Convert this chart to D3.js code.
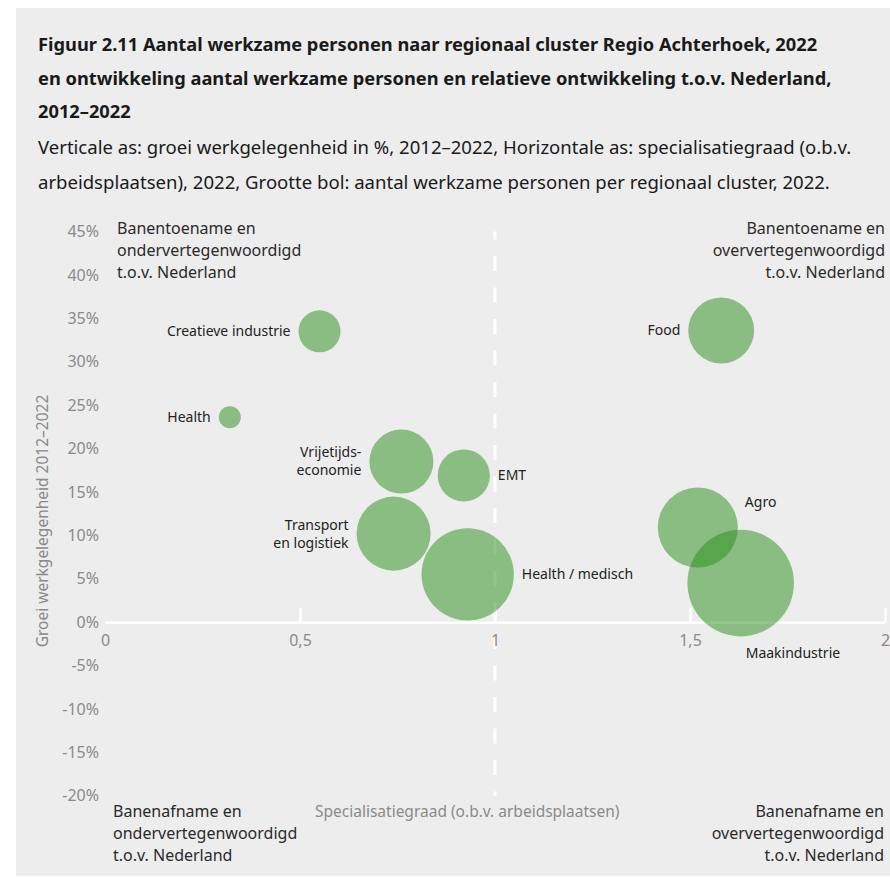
<!DOCTYPE html>
<html>
<head>
<meta charset="utf-8">
<script src="https://cdn.jsdelivr.net/npm/d3@7"></script>
<style>
  body { margin: 0; background: #fff; }
  svg { display: block; font-family: "Noto Sans", sans-serif; }
</style>
</head>
<body>
<svg id="chart" width="890" height="877"></svg>
<script>
// waarden
var clusters = ["Creatieve industrie", "Health", "Food", "Vrijetijdseconomie", "EMT",
  "Transport en logistiek", "Health / medisch", "Agro", "Maakindustrie"];
var labelLines = [["Creatieve industrie"], ["Health"], ["Food"], ["Vrijetijds-", "economie"], ["EMT"],
  ["Transport", "en logistiek"], ["Health / medisch"], ["Agro"], ["Maakindustrie"]];
var specialisatie = [0.55, 0.32, 1.58, 0.76, 0.92, 0.74, 0.93, 1.52, 1.63];
var groei = [33.5, 23.6, 33.6, 18.5, 16.9, 10.2, 5.5, 10.9, 4.5];
var werkzamen = [4350, 1200, 10700, 10100, 6700, 13500, 21000, 15800, 28000];

var xTicks = [0, 0.5, 1, 1.5, 2];
var yTicks = [-20, -15, -10, -5, 0, 5, 10, 15, 20, 25, 30, 35, 40, 45];

var titleLines = [
  "Figuur 2.11 Aantal werkzame personen naar regionaal cluster Regio Achterhoek, 2022",
  "en ontwikkeling aantal werkzame personen en relatieve ontwikkeling t.o.v. Nederland,",
  "2012\u20132022"
];
var subtitleLines = [
  "Verticale as: groei werkgelegenheid in %, 2012\u20132022, Horizontale as: specialisatiegraad (o.b.v.",
  "arbeidsplaatsen), 2022, Grootte bol: aantal werkzame personen per regionaal cluster, 2022."
];

// plaats van het label t.o.v. de bol
var labelSide = ["left", "left", "left", "left", "right", "left", "right", "upright", "below"];

var svg = d3.select('#chart');

svg.append('rect')
  .attr('x', 16).attr('y', 8)
  .attr('width', 874).attr('height', 868)
  .attr('fill', '#ededed');

// tekst passend maken op de breedte uit de figuur
function fitSize(sel, base, target) {
  var w = sel.node().getComputedTextLength();
  return base * target / w;
}

var title = svg.append('g');
var t1 = title.append('text')
  .attr('x', 38).attr('y', 51)
  .attr('font-weight', 700).attr('font-size', 18)
  .text(titleLines[0]);
var titleSize = fitSize(t1, 18, 780);
title.selectAll('text').remove();
titleLines.forEach(function(s, i) {
  title.append('text')
    .attr('x', 38).attr('y', 51 + i * 33.5)
    .attr('font-weight', 700).attr('font-size', titleSize)
    .attr('fill', '#1a1a1a')
    .text(s);
});

var s1 = svg.append('text')
  .attr('x', 38).attr('y', 154)
  .attr('font-size', 17)
  .text(subtitleLines[0]);
var subSize = fitSize(s1, 17, 814);
s1.remove();
subtitleLines.forEach(function(s, i) {
  svg.append('text')
    .attr('x', 38).attr('y', 154 + i * 34.5)
    .attr('font-size', subSize)
    .attr('fill', '#1a1a1a')
    .text(s);
});

var x = d3.scaleLinear().domain([0, 2]).range([105, 885]);
var y = d3.scaleLinear().domain([-20, 45]).range([795.8, 231.5]);
var r = d3.scaleSqrt().domain([0, 28000]).range([0, 53.3]);

// verticale stippellijn bij specialisatiegraad 1
svg.append('line')
  .attr('x1', x(1)).attr('x2', x(1))
  .attr('y1', y(45)).attr('y2', y(-20))
  .attr('stroke', '#fff')
  .attr('stroke-width', 3)
  .attr('stroke-dasharray', '15,16.5')
  .attr('stroke-dashoffset', 7);

// y-as
var yAxis = svg.append('g')
  .attr('transform', 'translate(' + x(0) + ',0)')
  .call(d3.axisLeft(y).tickValues(yTicks).tickSize(0).tickPadding(6)
    .tickFormat(function(d) { return d + '%'; }));
yAxis.select('.domain').remove();
yAxis.selectAll('text')
  .attr('font-family', '"Noto Sans", sans-serif')
  .attr('font-size', 16)
  .attr('fill', '#8a8a8a');

// x-as
var xAxis = svg.append('g')
  .attr('transform', 'translate(0,' + y(0) + ')')
  .call(d3.axisBottom(x).tickValues(xTicks).tickSize(-14).tickSizeOuter(0).tickPadding(12)
    .tickFormat(function(d) { return String(d).replace('.', ','); }));
xAxis.select('.domain')
  .attr('stroke', '#fff')
  .attr('stroke-width', 2.5);
xAxis.selectAll('.tick line')
  .attr('stroke', '#fff')
  .attr('stroke-width', 2.5)
  .attr('display', function(d) { return d === 0 ? 'none' : null; });
xAxis.selectAll('text')
  .attr('font-family', '"Noto Sans", sans-serif')
  .attr('font-size', 16)
  .attr('fill', '#8a8a8a');

// astitels
svg.append('text')
  .attr('x', 315).attr('y', 817)
  .attr('font-size', 15.5)
  .attr('fill', '#8a8a8a')
  .text('Specialisatiegraad (o.b.v. arbeidsplaatsen)');

svg.append('text')
  .attr('transform', 'translate(48,521) rotate(-90)')
  .attr('text-anchor', 'middle')
  .attr('font-size', 15.5)
  .attr('fill', '#8a8a8a')
  .text('Groei werkgelegenheid 2012\u20132022');

// kwadrantteksten
var quadrants = [
  { x: 117, y: 234, anchor: 'start', lines: ['Banentoename en', 'ondervertegenwoordigd', 't.o.v. Nederland'] },
  { x: 885, y: 234, anchor: 'end', lines: ['Banentoename en', 'oververtegenwoordigd', 't.o.v. Nederland'] },
  { x: 113, y: 817, anchor: 'start', lines: ['Banenafname en', 'ondervertegenwoordigd', 't.o.v. Nederland'] },
  { x: 884, y: 817, anchor: 'end', lines: ['Banenafname en', 'oververtegenwoordigd', 't.o.v. Nederland'] }
];
quadrants.forEach(function(q) {
  var t = svg.append('text')
    .attr('x', q.x).attr('y', q.y)
    .attr('text-anchor', q.anchor)
    .attr('font-size', 16)
    .attr('fill', '#2a2a2a');
  q.lines.forEach(function(l, i) {
    t.append('tspan')
      .attr('x', q.x)
      .attr('dy', i === 0 ? 0 : 21.8)
      .text(l);
  });
});

// bollen
var data = clusters.map(function(c, i) {
  return { name: c, lines: labelLines[i], x: specialisatie[i], y: groei[i], n: werkzamen[i], side: labelSide[i] };
});

svg.append('g').selectAll('circle')
  .data(data)
  .join('circle')
  .attr('cx', function(d) { return x(d.x); })
  .attr('cy', function(d) { return y(d.y); })
  .attr('r', function(d) { return r(d.n); })
  .attr('fill', 'rgb(39,141,23)')
  .attr('fill-opacity', 0.5);

var labels = svg.append('g').selectAll('text')
  .data(data)
  .join('text')
  .attr('font-size', 14)
  .attr('fill', '#222')
  .attr('text-anchor', function(d) { return d.side === 'left' ? 'end' : 'start'; })
  .each(function(d) {
    var cx = x(d.x), cy = y(d.y), rad = r(d.n);
    var lx, ly;
    if (d.side === 'left') { lx = cx - rad - 8; ly = cy; }
    else if (d.side === 'right') { lx = cx + rad + 8; ly = cy; }
    else if (d.side === 'upright') { lx = cx + rad + 7; ly = cy - 25; }
    else { lx = cx + 5; ly = cy + rad + 17; }
    var t = d3.select(this);
    var off = (d.lines.length - 1) * 9;
    d.lines.forEach(function(l, i) {
      t.append('tspan')
        .attr('x', lx)
        .attr('y', ly - off + i * 18)
        .attr('dy', '0.35em')
        .text(l);
    });
  });
</script>
</body>
</html>
